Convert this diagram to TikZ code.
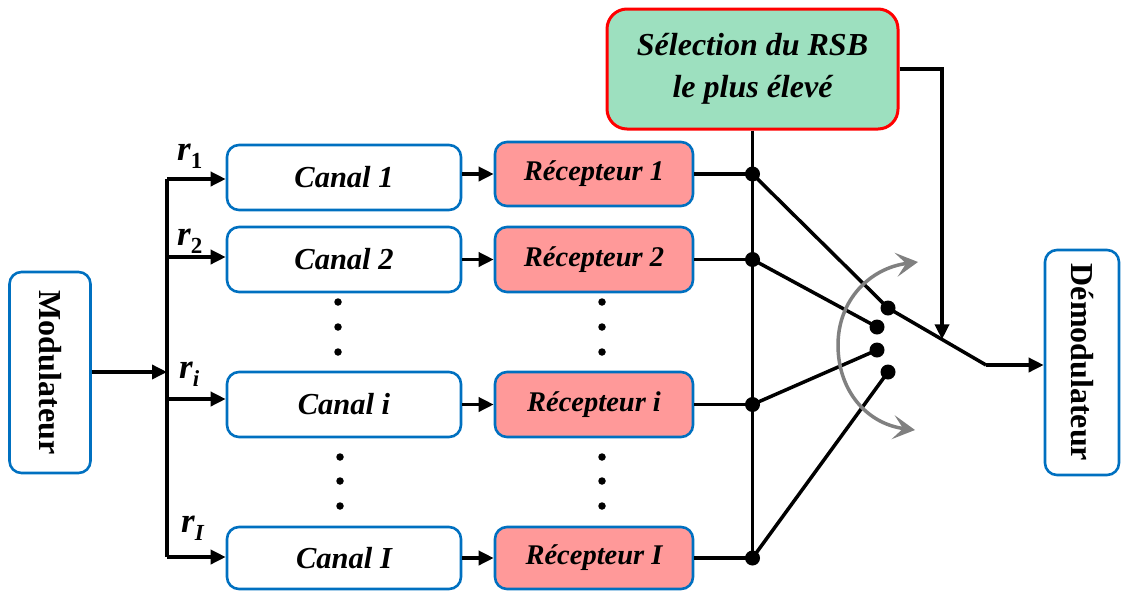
\documentclass[tikz,border=0pt]{standalone}
\usepackage{fontspec}
\setmainfont{Liberation Serif}
\usetikzlibrary{arrows.meta,calc}
\definecolor{boxblue}{HTML}{0070C0}
\definecolor{rxpink}{HTML}{FF9999}
\definecolor{selgreen}{HTML}{9DE0BF}
\definecolor{arcgrey}{HTML}{808080}
\newcommand{\rsig}[1]{{\bfseries\itshape r}\raisebox{-0.25em}{\fontsize{23}{23}\selectfont\bfseries #1}}
\begin{document}
\begin{tikzpicture}[x=1pt,y=-1pt,
  box/.style={draw=boxblue, line width=2.6pt, rounded corners=12pt, inner sep=0pt, align=center},
  canal/.style={box, minimum width=234pt, minimum height=65pt, font=\fontsize{30.5}{36}\selectfont\bfseries\itshape},
  recv/.style={box, fill=rxpink, minimum width=198pt, minimum height=65pt, font=\fontsize{28.5}{34}\selectfont\bfseries\itshape},
  endbox/.style={box, minimum width=81pt, minimum height=201pt},
  wire/.style={line width=3.5pt},
  arr/.style={wire, -{Triangle[length=15pt,width=14pt]}},
  junction/.style={circle, fill=black, inner sep=0pt, minimum size=15pt},
  smalldot/.style={circle, fill=black, inner sep=0pt, minimum size=7.5pt},
  rlabel/.style={anchor=base west, inner sep=0pt, font=\fontsize{35}{36}\selectfont}
]
\useasboundingbox (0,0) rectangle (1123,590);

% end blocks
\node[endbox] (mod) at (50,372.5)
  {\rotatebox{-90}{\fontsize{32}{36}\selectfont\bfseries Modulateur}};
\node[endbox, minimum width=74pt, minimum height=225pt] (demod) at (1082,362.5)
  {\rotatebox{-90}{\fontsize{32}{36}\selectfont\bfseries Démodulateur}};

% channels
\node[canal] (c1) at (344,177.5) {Canal 1};
\node[canal] (c2) at (344,259.5) {Canal 2};
\node[canal] (ci) at (344,404.5) {Canal i};
\node[canal, minimum height=62pt] (cI) at (344,558) {Canal I};

% receivers
\node[recv, minimum height=64pt] (r1) at (594,174) {Récepteur 1};
\node[recv] (r2) at (594,259.5) {Récepteur 2};
\node[recv] (ri) at (594,404.5) {Récepteur i};
\node[recv, minimum height=62pt] (rI) at (594,558) {Récepteur I};

% selection block
\node[draw=red, fill=selgreen, line width=3pt, rounded corners=20pt,
      minimum width=291pt, minimum height=120pt, align=center,
      font=\fontsize{32}{42}\selectfont\bfseries\itshape] (sel) at (752.5,69)
  {Sélection du RSB\\le plus élevé};

% distribution bus
\coordinate (bm) at (167,372);
\coordinate (b1) at (167,179);
\coordinate (b2) at (167,257);
\coordinate (bi) at (167,399);
\coordinate (bI) at (167,557);
\draw[arr] (mod.east |- bm) -- (bm);
\draw[wire] (b1) -- (bI);
\draw[arr] (b1) -- (c1.west |- b1);
\draw[arr] (b2) -- (c2.west |- b2);
\draw[arr] (bi) -- (ci.west |- bi);
\draw[arr] (bI) -- (cI.west |- bI);

% branch labels
\node[rlabel] (l1) at (177,160) {\rsig{1}};
\node[rlabel] (l2) at (177,245) {\rsig{2}};
\node[rlabel] (li) at (179,378) {\rsig{\itshape i}};
\node[rlabel] (lI) at (181,532) {\rsig{\itshape I}};

% channel to receiver
\draw[arr] (r1.west -| c1.east) -- (r1.west);
\draw[arr] (r2.west -| c2.east) -- (r2.west);
\draw[arr] (ri.west -| ci.east) -- (ri.west);
\draw[arr] (rI.west -| cI.east) -- (rI.west);

% vertical ellipses
\foreach \y [count=\k] in {302,327,352} {
  \node[smalldot] (cu\k) at (338,\y) {};
  \node[smalldot] (ru\k) at (602,\y) {};
}
\foreach \y [count=\k] in {457,481,506} {
  \node[smalldot] (cd\k) at (340,\y) {};
  \node[smalldot] (rd\k) at (602,\y) {};
}

% receiver outputs and common line
\coordinate (j1) at (sel.south |- r1.east);
\coordinate (j2) at (sel.south |- r2.east);
\coordinate (ji) at (sel.south |- ri.east);
\coordinate (jI) at (sel.south |- rI.east);
\draw[wire] (sel.south) -- (jI);
\draw[wire] (r1.east) -- (j1);
\draw[wire] (r2.east) -- (j2);
\draw[wire] (ri.east) -- (ji);
\draw[wire] (rI.east) -- (jI);

% switch contacts
\node[junction] (s1) at (888,308) {};
\node[junction] (s2) at (877,327) {};
\node[junction] (s3) at (877,350) {};
\node[junction] (s4) at (888,372) {};
\draw[wire] (j1) -- (s1.center);
\draw[wire] (j2) -- (s2.center);
\draw[wire] (ji) -- (s3.center);
\draw[wire] (jI) -- (s4.center);
\foreach \n in {j1,j2,ji,jI} \node[junction] at (\n) {};

% switch output
\coordinate (out) at (986,365);
\draw[wire] (s1.center) -- (out);
\draw[arr] (out) -- (demod.west |- out);

% control from selection block
\coordinate (tap) at ($(s1.center)!0.551!(out)$);
\coordinate (ctl) at (tap |- sel.east);
\draw[arr] (sel.east) -- (ctl) -- (tap);

% switching arc
\draw[line width=3.5pt, arcgrey, {Stealth[length=22pt,width=24pt,inset=10pt]}-{Stealth[length=22pt,width=24pt,inset=10pt]}]
  (918,262) .. controls (870,268) and (838,300) .. (838,345)
            .. controls (838,392) and (868,424) .. (915,430);
\end{tikzpicture}
\end{document}
